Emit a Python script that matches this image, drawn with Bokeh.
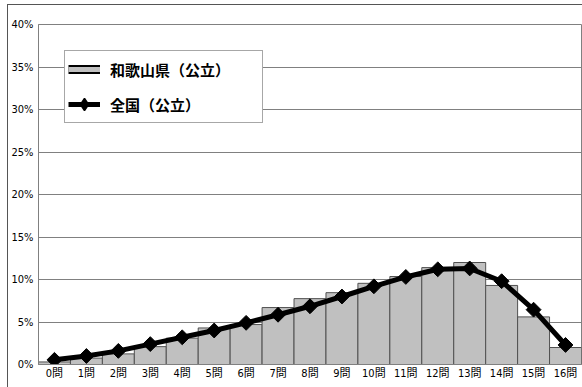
from bokeh.plotting import figure
from bokeh.models import (ColumnDataSource, FactorRange, PrintfTickFormatter, Legend,
                          LegendItem, FixedTicker, InlineStyleSheet)
from bokeh.embed import file_html
from bokeh.resources import INLINE

categories = ["0問", "1問", "2問", "3問", "4問", "5問", "6問", "7問", "8問",
              "9問", "10問", "11問", "12問", "13問", "14問", "15問", "16問"]
wakayama = [0.3, 0.75, 1.25, 2.1, 3.1, 4.3, 4.7, 6.7, 7.75,
            8.45, 9.55, 10.35, 11.4, 12.0, 9.3, 5.6, 2.0]
national = [0.55, 1.0, 1.6, 2.4, 3.2, 4.0, 4.9, 5.85, 6.85,
            8.0, 9.2, 10.3, 11.2, 11.3, 9.8, 6.45, 2.3]
y_ticks = [0, 5, 10, 15, 20, 25, 30, 35, 40]
series_names = ["和歌山県（公立）", "全国（公立）"]

src = ColumnDataSource(dict(cat=categories, w=wakayama, n=national))
# one off-screen point per legend-only renderer (below the visible y range)
dummy = ColumnDataSource(dict(cat=[categories[0]], y=[-10]))

NARROW = "DejaVu Sans Condensed, Noto Sans CJK JP, sans-serif"
CJK = "Noto Sans CJK JP, sans-serif"

border_css = InlineStyleSheet(css=":host { border-top: 1px solid #555555; "
                                  "border-left: 1px solid #555555; box-sizing: content-box; }")

p = figure(width=574, height=382,
           x_range=FactorRange(*categories, range_padding=0),
           y_range=(0, 40), output_backend="svg", toolbar_location=None,
           min_border_left=30, min_border_top=19, min_border_right=2, min_border_bottom=24,
           margin=(4, 0, 0, 7), stylesheets=[border_css])

bars = p.vbar(x="cat", top="w", width=1.0, source=src, fill_color="#c0c0c0",
              line_color="#505050", line_width=1)
ln = p.line(x="cat", y="n", source=src, line_color="black", line_width=5)
mk = p.scatter(x="cat", y="n", source=src, marker="square", angle=0.785398,
               size=10.5, fill_color="black", line_color="black")

# legend-only key glyphs
sw_out = p.line(x="cat", y="y", source=dummy, line_color="black", line_width=9,
                line_cap="butt")
sw_in = p.line(x="cat", y="y", source=dummy, line_color="#c0c0c0", line_width=5,
               line_cap="butt")
lg_ln = p.line(x="cat", y="y", source=dummy, line_color="black", line_width=5)
lg_mk = p.scatter(x="cat", y="y", source=dummy, marker="diamond", size=14,
                  fill_color="black", line_color="black", line_width=1.5)

p.yaxis.ticker = FixedTicker(ticks=y_ticks)
p.yaxis.formatter = PrintfTickFormatter(format="%d%%")
p.yaxis.major_tick_line_color = None
p.yaxis.minor_tick_line_color = None
p.yaxis.major_tick_out = 0
p.yaxis.major_tick_in = 0
p.yaxis.minor_tick_out = 0
p.yaxis.axis_line_color = "#808080"
p.yaxis.major_label_text_font = NARROW
p.yaxis.major_label_text_font_size = "11px"
p.yaxis.major_label_text_color = "#000000"
p.yaxis.major_label_standoff = 5

p.xaxis.major_tick_line_color = None
p.xaxis.major_tick_out = 0
p.xaxis.major_tick_in = 0
p.xaxis.axis_line_color = "#808080"
p.xaxis.major_label_text_font = NARROW
p.xaxis.major_label_text_font_size = "11px"
p.xaxis.major_label_text_color = "#000000"
p.xaxis.major_label_standoff = 2

p.xgrid.grid_line_color = None
p.ygrid.grid_line_color = "#808080"
p.ygrid.grid_line_width = 1
p.outline_line_color = "#808080"
p.background_fill_color = "white"
p.border_fill_color = "white"

legend = Legend(items=[LegendItem(label=series_names[0], renderers=[sw_out, sw_in]),
                       LegendItem(label=series_names[1], renderers=[lg_ln, lg_mk])],
                location=(26, 241), orientation="vertical",
                label_text_font=CJK, label_text_font_size="15px",
                label_text_font_style="bold",
                label_text_color="#000000",
                glyph_width=32, glyph_height=30, label_height=20, label_width=149,
                spacing=5, padding=3, margin=0, label_standoff=10,
                border_line_color="#505050", border_line_width=1,
                background_fill_alpha=1.0)
p.add_layout(legend, "center")

open("out.html", "w").write(file_html(p, INLINE))
